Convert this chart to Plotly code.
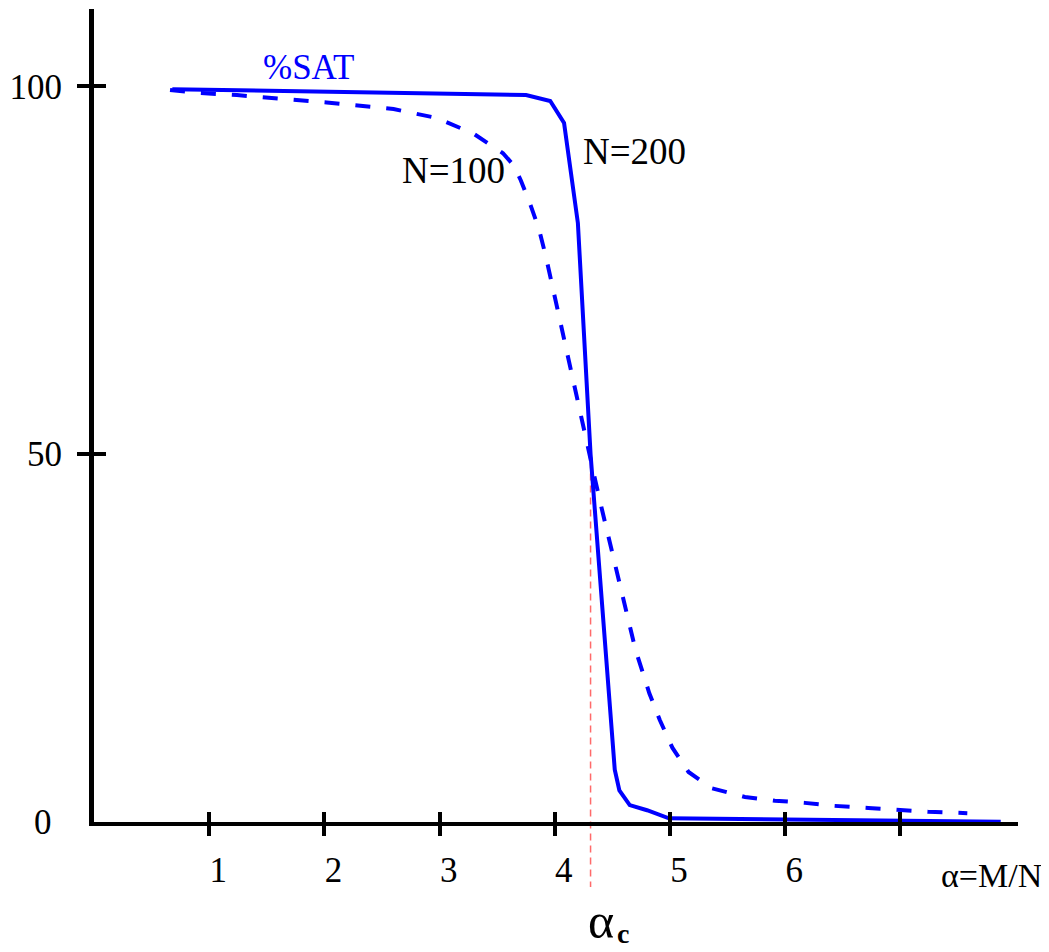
import plotly.graph_objects as go

# ---- data ----
alpha_200 = [0.68, 3.75, 3.96, 4.08, 4.20, 4.31, 4.52, 4.56, 4.65, 4.80, 4.99, 6.04, 7.87]
sat_200 = [99.6, 98.8, 98.0, 95.0, 81.4, 50.0, 7.1, 4.3, 2.3, 1.6, 0.5, 0.3, 0.05]

alpha_100 = [0.66, 0.90, 1.24, 2.02, 2.60, 2.97, 3.29, 3.55, 3.64, 3.705, 3.79, 3.86, 3.92,
             3.98, 4.04, 4.11, 4.18, 4.24, 4.30, 4.35, 4.41, 4.47, 4.59, 4.70, 4.82, 4.91,
             5.02, 5.16, 5.36, 5.65, 5.91, 6.17, 6.42, 6.72, 6.98, 7.24, 7.58]
sat_100 = [99.5, 99.1, 98.8, 97.8, 96.9, 95.7, 93.6, 90.9, 89.3, 87.2, 83.8, 80.7, 77.0,
           73.0, 68.5, 63.5, 58.4, 53.9, 49.9, 46.5, 42.4, 38.3, 30.6, 23.4, 17.5, 13.9,
           10.1, 6.8, 4.6, 3.4, 2.9, 2.6, 2.2, 1.9, 1.6, 1.4, 1.2]

alpha_c = 4.31
alpha_c_top = 49.0

x_tick_vals = [1, 2, 3, 4, 5, 6, 7]
x_tick_text = ["1", "2", "3", "4", "5", "6", " "]
y_tick_vals = [50, 100]
y_tick_text = ["50", "100"]

x_range = [0, 8.02]
y_range = [0, 110.5]

FONT = "Liberation Serif"
BLUE = "#0000ff"

fig = go.Figure()
fig.add_trace(go.Scatter(x=alpha_100, y=sat_100, mode="lines",
                         line=dict(color=BLUE, width=4, dash="15px,16px"),
                         showlegend=False, hoverinfo="skip"))
fig.add_trace(go.Scatter(x=alpha_200, y=sat_200, mode="lines",
                         line=dict(color=BLUE, width=4),
                         showlegend=False, hoverinfo="skip"))
# invisible trace for overlay axes (crossing ticks)
fig.add_trace(go.Scatter(x=[None], y=[None], xaxis="x2", yaxis="y2",
                         showlegend=False, hoverinfo="skip"))

def yfrac(v):
    return (v - y_range[0]) / (y_range[1] - y_range[0])

# critical alpha marker line
fig.add_shape(type="line", xref="x", yref="paper",
              x0=alpha_c, x1=alpha_c, y0=yfrac(alpha_c_top), y1=-0.08,
              line=dict(color="#ff6a6a", width=1.5, dash="7px,5px"), layer="below")

tickfont = dict(family=FONT, size=35, color="black")
fig.update_layout(
    width=1041, height=944, autosize=False,
    margin=dict(l=81, r=31, t=1, b=130),
    plot_bgcolor="white", paper_bgcolor="white",
    xaxis=dict(range=x_range, showgrid=False, zeroline=False,
               showline=True, linecolor="black", linewidth=3.5,
               ticks="outside", ticklen=10, tickwidth=3.5, tickcolor="black",
               tickvals=x_tick_vals, ticktext=x_tick_text, tickfont=tickfont,
               ticklabelshift=9, ticklabelstandoff=4),
    yaxis=dict(range=y_range, showgrid=False, zeroline=False,
               showline=True, linecolor="black", linewidth=5,
               ticks="outside", ticklen=12, tickwidth=3.5, tickcolor="black",
               tickvals=y_tick_vals, ticktext=y_tick_text, tickfont=tickfont,
               ticklabelstandoff=8),
    xaxis2=dict(range=x_range, overlaying="x", anchor="y2", side="bottom",
                showgrid=False, zeroline=False, showline=False,
                ticks="inside", ticklen=10, tickwidth=3.5, tickcolor="black",
                tickvals=x_tick_vals, showticklabels=False),
    yaxis2=dict(range=y_range, overlaying="y", anchor="x2", side="left",
                showgrid=False, zeroline=False, showline=False,
                ticks="inside", ticklen=12, tickwidth=3.5, tickcolor="black",
                tickvals=y_tick_vals, showticklabels=False),
)

fig.add_annotation(text="0", xref="paper", x=0, yref="y", y=0,
                   xanchor="right", yanchor="middle", xshift=-40, yshift=0,
                   showarrow=False, font=tickfont)
fig.add_annotation(text="%SAT", xref="x", x=1.86, yref="y", y=102.5,
                   xanchor="center", yanchor="middle", showarrow=False,
                   font=dict(family=FONT, size=35, color=BLUE))
fig.add_annotation(text="N=100", xref="x", x=3.12, yref="y", y=88.6,
                   xanchor="center", yanchor="middle", showarrow=False,
                   font=dict(family=FONT, size=37, color="black"))
fig.add_annotation(text="N=200", xref="x", x=4.69, yref="y", y=91.2,
                   xanchor="center", yanchor="middle", showarrow=False,
                   font=dict(family=FONT, size=37, color="black"))
fig.add_annotation(text="α=M/N", xref="paper", x=1.0, yref="paper", y=0,
                   xanchor="center", yanchor="middle", xshift=-27, yshift=-53,
                   showarrow=False, font=dict(family=FONT, size=34, color="black"))
fig.add_annotation(text="α", xref="x", x=alpha_c, yref="paper", y=0,
                   xanchor="center", yanchor="bottom", xshift=10, yshift=-129,
                   showarrow=False, font=dict(family=FONT, size=50, color="black"))
fig.add_annotation(text="<b>c</b>", xref="x", x=alpha_c, yref="paper", y=0,
                   xanchor="center", yanchor="bottom", xshift=32, yshift=-129,
                   showarrow=False, font=dict(family=FONT, size=28, color="black"))

fig.write_html("out.html")
